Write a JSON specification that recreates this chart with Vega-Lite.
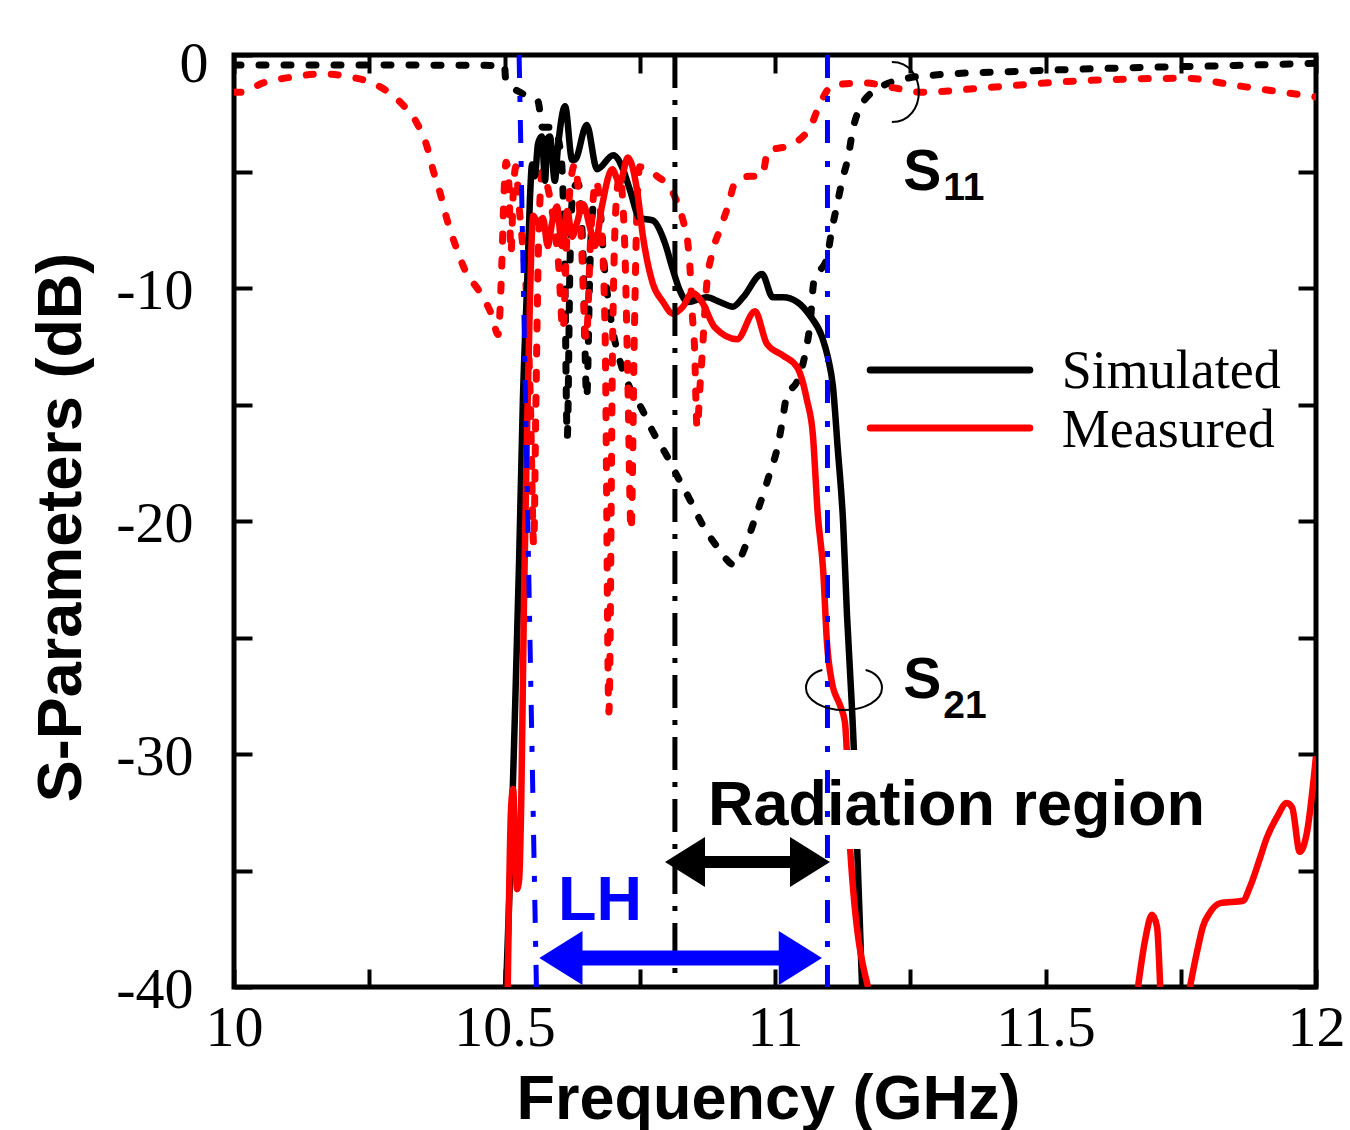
{
  "$schema": "https://vega.github.io/schema/vega-lite/v6.json",
  "width": 1082,
  "height": 932,
  "autosize": {"type": "none"},
  "padding": {"left": 234, "top": 55, "right": 34, "bottom": 143},
  "background": "white",
  "config": {
    "view": {"stroke": "black", "strokeWidth": 5},
    "axis": {
      "domain": false, "grid": false, "tickColor": "black", "tickWidth": 4,
      "labelFont": "Liberation Serif", "labelFontSize": 58, "labelColor": "black",
      "titleFont": "Liberation Sans", "titleFontWeight": "bold", "titleFontSize": 63, "titleColor": "black",
      "labelFlush": false, "labelOverlap": false, "labelBound": false
    }
  },
  "datasets": {
    "s11sim": [
      {"f":10.0,"db":-0.43},{"f":10.25,"db":-0.43},{"f":10.5,"db":-0.45},{"f":10.502,"db":-1.0},{"f":10.515,"db":-1.4},
      {"f":10.529,"db":-1.6},{"f":10.545,"db":-1.8},{"f":10.562,"db":-2.0},{"f":10.570,"db":-3.1},{"f":10.590,"db":-3.1},
      {"f":10.604,"db":-4.2},{"f":10.611,"db":-8.5},{"f":10.616,"db":-16.4},{"f":10.621,"db":-9.0},{"f":10.627,"db":-5.8},
      {"f":10.636,"db":-5.5},{"f":10.645,"db":-8.5},{"f":10.652,"db":-14.7},{"f":10.658,"db":-9.0},{"f":10.665,"db":-6.4},
      {"f":10.675,"db":-6.5},{"f":10.685,"db":-9.2},{"f":10.700,"db":-11.8},{"f":10.713,"db":-13.1},{"f":10.731,"db":-14.25},
      {"f":10.754,"db":-15.2},{"f":10.775,"db":-16.2},{"f":10.800,"db":-17.2},{"f":10.821,"db":-18.15},{"f":10.843,"db":-19.1},
      {"f":10.867,"db":-20.2},{"f":10.893,"db":-21.1},{"f":10.926,"db":-21.9},{"f":10.945,"db":-21.1},{"f":10.960,"db":-20.1},
      {"f":10.976,"db":-19.0},{"f":10.991,"db":-17.9},{"f":11.004,"db":-16.9},{"f":11.013,"db":-15.8},{"f":11.022,"db":-14.6},
      {"f":11.041,"db":-14.0},{"f":11.056,"db":-12.8},{"f":11.065,"db":-11.5},{"f":11.072,"db":-9.7},{"f":11.096,"db":-8.7},
      {"f":11.105,"db":-7.5},{"f":11.115,"db":-6.4},{"f":11.124,"db":-5.4},{"f":11.135,"db":-4.4},{"f":11.144,"db":-3.2},
      {"f":11.161,"db":-2.1},{"f":11.194,"db":-1.4},{"f":11.244,"db":-1.0},{"f":11.296,"db":-0.86},{"f":11.45,"db":-0.7},
      {"f":11.65,"db":-0.55},{"f":11.85,"db":-0.45},{"f":12.0,"db":-0.35}
    ],
    "s11meas": [
      {"f":10.0,"db":-1.6},{"f":10.011,"db":-1.6},{"f":10.054,"db":-1.2},{"f":10.109,"db":-0.94},{"f":10.165,"db":-0.81},
      {"f":10.214,"db":-0.94},{"f":10.264,"db":-1.29},{"f":10.307,"db":-2.02},{"f":10.338,"db":-2.92},{"f":10.357,"db":-3.95},
      {"f":10.368,"db":-4.94},{"f":10.381,"db":-5.92},{"f":10.394,"db":-7.08},{"f":10.409,"db":-8.15},{"f":10.427,"db":-9.23},
      {"f":10.455,"db":-10.2},{"f":10.477,"db":-11.2},{"f":10.488,"db":-12.0},{"f":10.495,"db":-9.0},{"f":10.499,"db":-6.0},
      {"f":10.503,"db":-4.6},{"f":10.508,"db":-5.5},{"f":10.512,"db":-8.5},{"f":10.516,"db":-6.0},{"f":10.521,"db":-4.8},
      {"f":10.527,"db":-6.5},{"f":10.533,"db":-8.0},{"f":10.540,"db":-10.0},{"f":10.548,"db":-15.0},{"f":10.554,"db":-21.0},
      {"f":10.558,"db":-15.0},{"f":10.563,"db":-8.0},{"f":10.570,"db":-5.0},{"f":10.578,"db":-5.5},{"f":10.590,"db":-7.0},
      {"f":10.600,"db":-9.0},{"f":10.608,"db":-11.8},{"f":10.615,"db":-8.0},{"f":10.622,"db":-5.5},{"f":10.630,"db":-4.7},
      {"f":10.640,"db":-7.0},{"f":10.651,"db":-12.2},{"f":10.660,"db":-7.5},{"f":10.669,"db":-5.4},{"f":10.678,"db":-7.0},
      {"f":10.686,"db":-12.0},{"f":10.693,"db":-28.2},{"f":10.700,"db":-12.0},{"f":10.706,"db":-6.5},{"f":10.713,"db":-5.2},
      {"f":10.722,"db":-8.0},{"f":10.728,"db":-14.0},{"f":10.734,"db":-20.4},{"f":10.740,"db":-12.0},{"f":10.745,"db":-6.5},
      {"f":10.750,"db":-4.8},{"f":10.782,"db":-5.2},{"f":10.811,"db":-5.9},{"f":10.830,"db":-7.1},{"f":10.839,"db":-8.1},
      {"f":10.843,"db":-9.2},{"f":10.847,"db":-11.1},{"f":10.851,"db":-12.4},{"f":10.856,"db":-16.0},{"f":10.862,"db":-14.0},
      {"f":10.865,"db":-13.0},{"f":10.874,"db":-9.8},{"f":10.884,"db":-8.5},{"f":10.898,"db":-7.5},{"f":10.913,"db":-6.5},
      {"f":10.926,"db":-5.5},{"f":10.954,"db":-5.2},{"f":10.976,"db":-5.2},{"f":10.987,"db":-4.1},{"f":11.024,"db":-3.9},
      {"f":11.065,"db":-3.1},{"f":11.083,"db":-2.1},{"f":11.107,"db":-1.3},{"f":11.166,"db":-1.2},{"f":11.218,"db":-1.4},
      {"f":11.274,"db":-1.6},{"f":11.39,"db":-1.4},{"f":11.57,"db":-1.1},{"f":11.76,"db":-1.0},{"f":11.85,"db":-1.3},
      {"f":12.0,"db":-1.8}
    ],
    "s21sim": [
      {"f":10.503,"db":-40},{"f":10.512,"db":-34.1},{"f":10.519,"db":-28.5},{"f":10.527,"db":-21.7},{"f":10.534,"db":-14.8},
      {"f":10.542,"db":-9.7},{"f":10.547,"db":-6.2},{"f":10.551,"db":-4.7},{"f":10.556,"db":-5.2},{"f":10.562,"db":-3.8},
      {"f":10.569,"db":-3.5},{"f":10.575,"db":-5.4},{"f":10.579,"db":-3.6},{"f":10.584,"db":-3.5},{"f":10.593,"db":-5.4},
      {"f":10.599,"db":-3.9},{"f":10.612,"db":-2.2},{"f":10.625,"db":-4.5},{"f":10.630,"db":-4.5},{"f":10.652,"db":-3.0},
      {"f":10.671,"db":-4.9},{"f":10.701,"db":-4.3},{"f":10.719,"db":-4.9},{"f":10.732,"db":-5.8},{"f":10.750,"db":-7.0},
      {"f":10.774,"db":-7.1},{"f":10.797,"db":-8.1},{"f":10.811,"db":-9.2},{"f":10.824,"db":-10.1},{"f":10.839,"db":-10.6},
      {"f":10.874,"db":-10.4},{"f":10.898,"db":-10.6},{"f":10.922,"db":-10.8},{"f":10.941,"db":-10.4},{"f":10.976,"db":-9.4},
      {"f":10.996,"db":-10.4},{"f":11.015,"db":-10.4},{"f":11.041,"db":-10.6},{"f":11.065,"db":-11.2},{"f":11.087,"db":-12.1},
      {"f":11.098,"db":-13.0},{"f":11.107,"db":-14.2},{"f":11.116,"db":-16.9},{"f":11.126,"db":-20.1},{"f":11.133,"db":-24.0},
      {"f":11.142,"db":-27.9},{"f":11.148,"db":-31.1},{"f":11.152,"db":-34.1},{"f":11.161,"db":-40}
    ],
    "s21meas": [
      {"seg":"a","f":10.506,"db":-40},{"seg":"a","f":10.512,"db":-32.4},{"seg":"a","f":10.516,"db":-31.5},{"seg":"a","f":10.519,"db":-33.3},
      {"seg":"a","f":10.523,"db":-35.8},{"seg":"a","f":10.527,"db":-35.4},{"seg":"a","f":10.531,"db":-32.0},{"seg":"a","f":10.536,"db":-23.4},
      {"seg":"a","f":10.542,"db":-15.7},{"seg":"a","f":10.547,"db":-10.5},{"seg":"a","f":10.553,"db":-6.9},{"seg":"a","f":10.562,"db":-7.2},
      {"seg":"a","f":10.571,"db":-7.0},{"seg":"a","f":10.580,"db":-8.2},{"seg":"a","f":10.588,"db":-7.2},{"seg":"a","f":10.597,"db":-6.5},
      {"seg":"a","f":10.606,"db":-8.2},{"seg":"a","f":10.616,"db":-6.7},{"seg":"a","f":10.625,"db":-7.8},{"seg":"a","f":10.634,"db":-7.2},
      {"seg":"a","f":10.645,"db":-6.4},{"seg":"a","f":10.658,"db":-7.4},{"seg":"a","f":10.667,"db":-8.2},{"seg":"a","f":10.680,"db":-6.5},
      {"seg":"a","f":10.699,"db":-4.9},{"seg":"a","f":10.713,"db":-5.5},{"seg":"a","f":10.728,"db":-4.4},{"seg":"a","f":10.745,"db":-5.8},
      {"seg":"a","f":10.756,"db":-7.8},{"seg":"a","f":10.774,"db":-9.8},{"seg":"a","f":10.793,"db":-10.6},{"seg":"a","f":10.811,"db":-11.1},
      {"seg":"a","f":10.830,"db":-10.8},{"seg":"a","f":10.847,"db":-10.2},{"seg":"a","f":10.865,"db":-10.6},{"seg":"a","f":10.889,"db":-11.7},
      {"seg":"a","f":10.930,"db":-12.2},{"seg":"a","f":10.963,"db":-11.0},{"seg":"a","f":10.985,"db":-12.4},{"seg":"a","f":11.015,"db":-12.9},
      {"seg":"a","f":11.041,"db":-13.4},{"seg":"a","f":11.059,"db":-14.8},{"seg":"a","f":11.070,"db":-16.3},{"seg":"a","f":11.079,"db":-19.7},
      {"seg":"a","f":11.089,"db":-22.1},{"seg":"a","f":11.096,"db":-25.2},{"seg":"a","f":11.105,"db":-26.9},{"seg":"a","f":11.120,"db":-27.9},
      {"seg":"a","f":11.129,"db":-28.6},{"seg":"a","f":11.133,"db":-30.0},{"seg":"a","f":11.139,"db":-34.1},{"seg":"a","f":11.172,"db":-40},
      {"seg":"b","f":11.671,"db":-40},{"seg":"b","f":11.684,"db":-38.0},{"seg":"b","f":11.697,"db":-36.9},{"seg":"b","f":11.706,"db":-37.4},
      {"seg":"b","f":11.712,"db":-40},
      {"seg":"c","f":11.767,"db":-40},{"seg":"c","f":11.780,"db":-38.5},{"seg":"c","f":11.791,"db":-37.4},{"seg":"c","f":11.804,"db":-36.8},
      {"seg":"c","f":11.823,"db":-36.4},{"seg":"c","f":11.865,"db":-36.3},{"seg":"c","f":11.878,"db":-35.7},{"seg":"c","f":11.896,"db":-34.5},
      {"seg":"c","f":11.909,"db":-33.6},{"seg":"c","f":11.928,"db":-32.7},{"seg":"c","f":11.946,"db":-32.1},{"seg":"c","f":11.956,"db":-32.3},
      {"seg":"c","f":11.970,"db":-34.2},{"seg":"c","f":11.983,"db":-33.4},{"seg":"c","f":12.0,"db":-30.1}
    ],
    "bluelines": [
      {"id":"low","f":10.527,"db":0},{"id":"low","f":10.559,"db":-40},
      {"id":"high","f":11.097,"db":0},{"id":"high","f":11.097,"db":-40}
    ],
    "blackline": [
      {"id":"rad","f":10.815,"db":0},{"id":"rad","f":10.815,"db":-40}
    ],
    "textbox": [{"f1":10.861,"f2":11.814,"db1":-29.83,"db2":-34.08}],
    "shafts": [
      {"id":"rad","f1":10.8336,"f2":11.0647,"db":-34.64},
      {"id":"lh","f1":10.6043,"f2":11.0469,"db":-38.76}
    ],
    "heads": [
      {"id":"rad","dir":"left","f":10.8336,"db":-34.64},{"id":"rad","dir":"right","f":11.0647,"db":-34.64},
      {"id":"lh","dir":"left","f":10.6043,"db":-38.76},{"id":"lh","dir":"right","f":11.0469,"db":-38.76}
    ],
    "arcs": [
      {"id":"s11","f":11.216,"db":-1.59},
      {"id":"s21","f":11.1275,"db":-27.17}
    ],
    "legendsim": [{"f1":11.176,"f2":11.471,"db":-13.52}],
    "legendmeas": [{"f1":11.176,"f2":11.471,"db":-16.01}],
    "legendtext": [
      {"t":"Simulated","f":11.530,"db":-14.29},
      {"t":"Measured","f":11.530,"db":-16.82}
    ],
    "bigtext": [{"t":"Radiation region","f":10.876,"db":-33.05}],
    "lhtext": [{"t":"LH","f":10.599,"db":-37.12}],
    "sletters": [{"t":"S","f":11.237,"db":-5.79},{"t":"S","f":11.237,"db":-27.6}],
    "subs": [{"t":"11","f":11.311,"db":-6.22},{"t":"21","f":11.311,"db":-28.45}]
  },
  "resolve": {
    "axis": {"x": "independent", "y": "independent"},
    "scale": {"color": "independent", "shape": "independent", "size": "independent", "strokeWidth": "independent"}
  },
  "layer": [
    {
      "data": {"name": "s11sim"},
      "mark": {"type": "line", "color": "black", "strokeWidth": 7, "strokeDash": [7, 18], "strokeCap": "round", "interpolate": "monotone", "clip": true},
      "encoding": {
        "x": {"field": "f", "type": "quantitative", "scale": {"domain": [10, 12], "nice": false, "zero": false}, "axis": null},
        "y": {"field": "db", "type": "quantitative", "scale": {"domain": [-40, 0], "nice": false, "zero": false}, "axis": null}
      }
    },
    {
      "data": {"name": "s11meas"},
      "mark": {"type": "line", "color": "#ff0000", "strokeWidth": 7, "strokeDash": [7, 18], "strokeCap": "round", "interpolate": "monotone", "clip": true},
      "encoding": {
        "x": {"field": "f", "type": "quantitative", "axis": null},
        "y": {"field": "db", "type": "quantitative", "axis": null}
      }
    },
    {
      "data": {"name": "s21sim"},
      "mark": {"type": "line", "color": "black", "strokeWidth": 6.5, "interpolate": "monotone", "clip": true},
      "encoding": {
        "x": {"field": "f", "type": "quantitative", "title": "Frequency (GHz)",
          "axis": {"orient": "bottom", "values": [10, 10.25, 10.5, 10.75, 11, 11.25, 11.5, 11.75, 12],
            "labelExpr": "datum.value % 0.5 === 0 ? '' + datum.value : ''",
            "tickSize": -18, "labelPadding": 76, "labelBaseline": "alphabetic",
            "titleX": 534, "titleY": 131, "titleBaseline": "alphabetic", "titleAlign": "center"}},
        "y": {"field": "db", "type": "quantitative", "title": "S-Parameters (dB)",
          "axis": {"orient": "left", "values": [0, -5, -10, -15, -20, -25, -30, -35, -40],
            "labelExpr": "datum.value % 10 === 0 ? '' + datum.value : ''",
            "tickSize": -18,
            "labelPadding": {"condition": {"test": "datum.value === 0", "value": 44}, "value": 59},
            "labelOffset": {"condition": {"test": "datum.value === 0", "value": 9}, "value": 3},
            "labelBaseline": "middle",
            "titleAngle": -90, "titleX": -154, "titleY": 472, "titleBaseline": "alphabetic", "titleAlign": "center"}}
      }
    },
    {
      "data": {"name": "s21meas"},
      "mark": {"type": "line", "color": "#ff0000", "strokeWidth": 6.5, "interpolate": "monotone", "clip": true},
      "encoding": {
        "x": {"field": "f", "type": "quantitative",
          "axis": {"orient": "top", "values": [10, 10.25, 10.5, 10.75, 11, 11.25, 11.5, 11.75, 12], "labels": false, "tickSize": -18, "title": null}},
        "y": {"field": "db", "type": "quantitative",
          "axis": {"orient": "right", "values": [0, -5, -10, -15, -20, -25, -30, -35, -40], "labels": false, "tickSize": -18, "title": null}},
        "detail": {"field": "seg", "type": "nominal"}
      }
    },
    {
      "data": {"name": "textbox"},
      "mark": {"type": "rect", "color": "white", "opacity": 1},
      "encoding": {
        "x": {"field": "f1", "type": "quantitative", "axis": null},
        "x2": {"field": "f2"},
        "y": {"field": "db1", "type": "quantitative", "axis": null},
        "y2": {"field": "db2"}
      }
    },
    {
      "data": {"name": "bluelines"},
      "mark": {"type": "line", "color": "#0000ff", "strokeWidth": 5, "strokeDash": [23, 18, 6, 18]},
      "encoding": {
        "x": {"field": "f", "type": "quantitative", "axis": null},
        "y": {"field": "db", "type": "quantitative", "axis": null},
        "detail": {"field": "id", "type": "nominal"},
        "order": {"field": "db", "sort": "descending"}
      }
    },
    {
      "data": {"name": "blackline"},
      "mark": {"type": "line", "color": "black", "strokeWidth": 5, "strokeDash": [33, 12, 5, 12]},
      "encoding": {
        "x": {"field": "f", "type": "quantitative", "axis": null},
        "y": {"field": "db", "type": "quantitative", "axis": null},
        "detail": {"field": "id", "type": "nominal"},
        "order": {"field": "db", "sort": "descending"}
      }
    },
    {
      "data": {"name": "shafts"},
      "mark": {"type": "rule"},
      "encoding": {
        "x": {"field": "f1", "type": "quantitative", "axis": null},
        "x2": {"field": "f2"},
        "y": {"field": "db", "type": "quantitative", "axis": null},
        "color": {"field": "id", "type": "nominal", "scale": {"domain": ["rad", "lh"], "range": ["black", "#0000ff"]}, "legend": null},
        "strokeWidth": {"field": "id", "type": "nominal", "scale": {"domain": ["rad", "lh"], "range": [12, 15]}, "legend": null}
      }
    },
    {
      "data": {"name": "heads"},
      "mark": {"type": "point", "filled": true, "opacity": 1, "strokeWidth": 0},
      "encoding": {
        "x": {"field": "f", "type": "quantitative", "axis": null},
        "y": {"field": "db", "type": "quantitative", "axis": null},
        "shape": {"field": "dir", "type": "nominal", "scale": {"domain": ["left", "right"], "range": ["M -0.8 0 L 0.8 -1 L 0.8 1 Z", "M 0.8 0 L -0.8 -1 L -0.8 1 Z"]}, "legend": null},
        "color": {"field": "id", "type": "nominal", "scale": {"domain": ["rad", "lh"], "range": ["black", "#0000ff"]}, "legend": null},
        "size": {"field": "id", "type": "nominal", "scale": {"domain": ["rad", "lh"], "range": [2500, 2916]}, "legend": null}
      }
    },
    {
      "data": {"name": "arcs"},
      "mark": {"type": "point", "filled": false, "color": "black", "strokeWidth": 2, "opacity": 1},
      "encoding": {
        "x": {"field": "f", "type": "quantitative", "axis": null},
        "y": {"field": "db", "type": "quantitative", "axis": null},
        "shape": {"field": "id", "type": "nominal", "scale": {"domain": ["s11", "s21"], "range": ["M 0 -1 C 1.2 -1 1.2 1 0 1", "M -0.57 -0.475 C -0.8 -0.42 -1 -0.25 -1 0 C -1 0.32 -0.552 0.58 0 0.58 C 0.552 0.58 1 0.32 1 0 C 1 -0.25 0.8 -0.42 0.57 -0.475"]}, "legend": null},
        "size": {"field": "id", "type": "nominal", "scale": {"domain": ["s11", "s21"], "range": [3600, 5776]}, "legend": null}
      }
    },
    {
      "data": {"name": "legendsim"},
      "mark": {"type": "rule", "strokeWidth": 7, "strokeCap": "round", "color": "black"},
      "encoding": {
        "x": {"field": "f1", "type": "quantitative", "axis": null},
        "x2": {"field": "f2"},
        "y": {"field": "db", "type": "quantitative", "axis": null}
      }
    },
    {
      "data": {"name": "legendmeas"},
      "mark": {"type": "rule", "strokeWidth": 7, "strokeCap": "round", "color": "#ff0000"},
      "encoding": {
        "x": {"field": "f1", "type": "quantitative", "axis": null},
        "x2": {"field": "f2"},
        "y": {"field": "db", "type": "quantitative", "axis": null}
      }
    },
    {
      "data": {"name": "legendtext"},
      "mark": {"type": "text", "font": "Liberation Serif", "fontSize": 54, "align": "left", "baseline": "alphabetic", "color": "black"},
      "encoding": {
        "x": {"field": "f", "type": "quantitative", "axis": null},
        "y": {"field": "db", "type": "quantitative", "axis": null},
        "text": {"field": "t"}
      }
    },
    {
      "data": {"name": "bigtext"},
      "mark": {"type": "text", "font": "Liberation Sans", "fontWeight": "bold", "fontSize": 63, "align": "left", "baseline": "alphabetic", "color": "black"},
      "encoding": {
        "x": {"field": "f", "type": "quantitative", "axis": null},
        "y": {"field": "db", "type": "quantitative", "axis": null},
        "text": {"field": "t"}
      }
    },
    {
      "data": {"name": "lhtext"},
      "mark": {"type": "text", "font": "Liberation Sans", "fontWeight": "bold", "fontSize": 63, "align": "left", "baseline": "alphabetic", "color": "#0000ff"},
      "encoding": {
        "x": {"field": "f", "type": "quantitative", "axis": null},
        "y": {"field": "db", "type": "quantitative", "axis": null},
        "text": {"field": "t"}
      }
    },
    {
      "data": {"name": "sletters"},
      "mark": {"type": "text", "font": "Liberation Sans", "fontWeight": "bold", "fontSize": 57, "align": "left", "baseline": "alphabetic", "color": "black"},
      "encoding": {
        "x": {"field": "f", "type": "quantitative", "axis": null},
        "y": {"field": "db", "type": "quantitative", "axis": null},
        "text": {"field": "t"}
      }
    },
    {
      "data": {"name": "subs"},
      "mark": {"type": "text", "font": "Liberation Sans", "fontWeight": "bold", "fontSize": 39, "align": "left", "baseline": "alphabetic", "color": "black"},
      "encoding": {
        "x": {"field": "f", "type": "quantitative", "axis": null},
        "y": {"field": "db", "type": "quantitative", "axis": null},
        "text": {"field": "t"}
      }
    }
  ]
}
